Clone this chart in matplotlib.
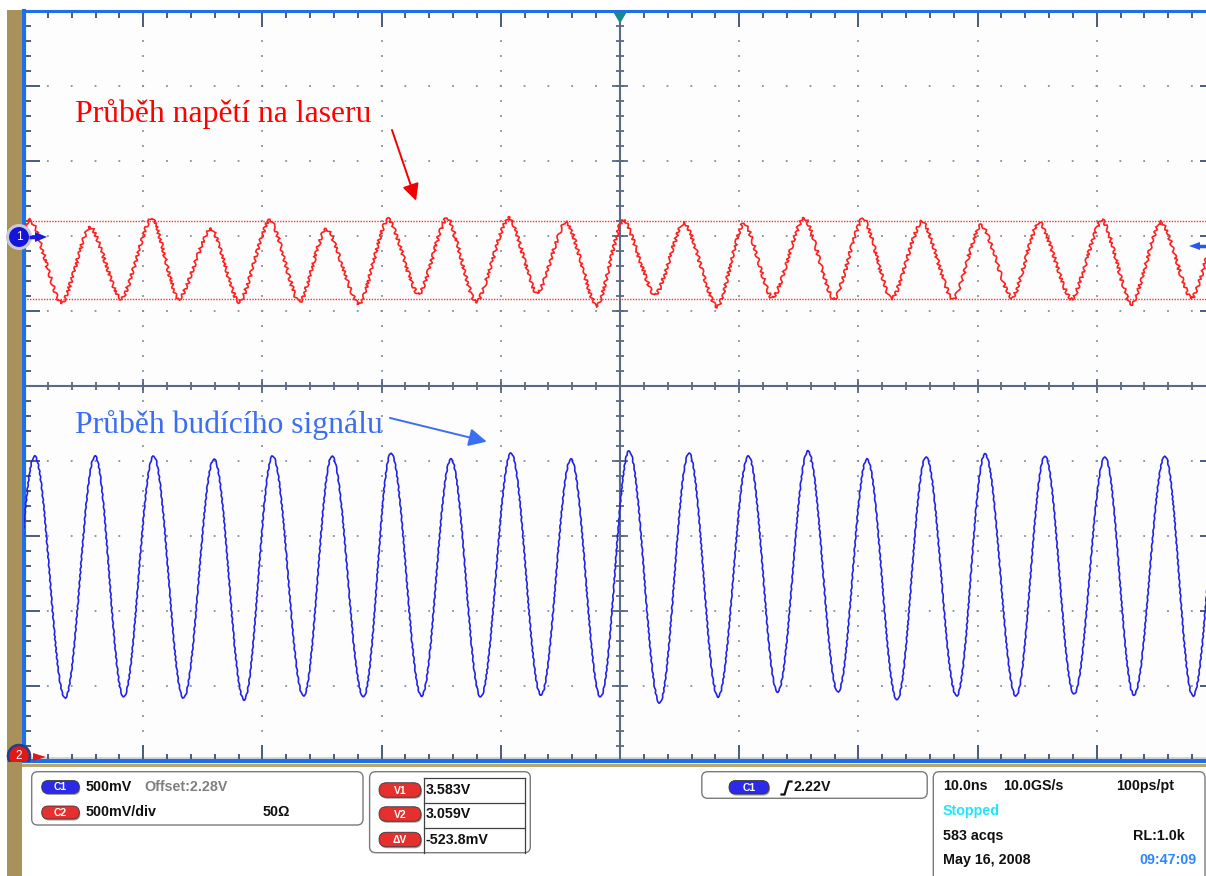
import numpy as np
import matplotlib.pyplot as plt
from matplotlib.path import Path
from matplotlib.patches import PathPatch, FancyBboxPatch, Rectangle, Circle, Polygon
from matplotlib.ticker import FixedLocator, MultipleLocator

plt.rcParams['lines.scale_dashes'] = False

# Oscilloscope screen: 10 ns/div, 500 mV/div (values in V on the C2 scale)
# Red trace - voltage on the laser, turning points
laser_t = [-52.1, -49.5, -46.85, -44.46, -41.86, -39.26, -37.04, -34.31, -31.96, -29.36,
           -26.89, -24.66, -21.90, -19.46, -16.90, -14.51, -12.08, -9.31, -6.96, -4.53,
           -1.93, 0.25, 2.94, 5.37, 8.14, 10.40, 12.79, 15.44, 17.95, 20.39,
           22.78, 25.34, 27.94, 30.29, 32.89, 35.15, 37.88, 40.44, 42.91, 45.39,
           47.94, 50.4]
laser_v = [3.05, 3.587, 3.033, 3.540, 3.060, 3.600, 3.060, 3.527, 3.040, 3.587,
           3.040, 3.527, 3.027, 3.593, 3.093, 3.600, 3.040, 3.600, 3.100, 3.573,
           3.013, 3.587, 3.087, 3.567, 3.007, 3.567, 3.067, 3.600, 3.060, 3.600,
           3.060, 3.580, 3.060, 3.553, 3.067, 3.573, 3.060, 3.587, 3.027, 3.573,
           3.067, 3.58]

# Blue trace - driving signal
drive_t = [-51.6, -49.11, -46.56, -44.04, -41.64, -39.13, -36.62, -34.06, -31.54, -29.14,
           -26.55, -24.16, -21.52, -19.21, -16.65, -14.18, -11.69, -9.14, -6.63, -4.11,
           -1.64, 0.76, 3.32, 5.79, 8.22, 10.78, 13.22, 15.77, 18.29, 20.72,
           23.24, 25.67, 28.24, 30.62, 33.22, 35.65, 38.09, 40.69, 43.12, 45.72,
           48.07, 50.6]
drive_v = [0.400, 2.013, 0.400, 2.013, 0.407, 2.013, 0.400, 1.993, 0.387, 2.013,
           0.413, 2.013, 0.407, 2.033, 0.413, 1.993, 0.407, 2.033, 0.420, 1.993,
           0.407, 2.047, 0.367, 2.033, 0.407, 2.013, 0.440, 2.047, 0.440, 1.993,
           0.387, 2.007, 0.413, 2.027, 0.413, 2.013, 0.427, 2.007, 0.420, 2.013,
           0.413, 2.01]

cursor_v1 = 3.583
cursor_v2 = 3.059

W, H = 1206, 876
fig = plt.figure(figsize=(W / 100, H / 100), dpi=100, facecolor='white')

# screen: 10 x 119.2 px wide (right part cut off by the picture), 10 x 75 px high
ax = fig.add_axes([24 / W, (H - 761) / H, 1192 / W, 750 / H])
ax.set_facecolor('#FDFDFD')
ax.set_xlim(-50, 50)
ax.set_ylim(-0.02, 4.98)

tick_c = '#4A5C7A'
dot_c = '#8090A8'
ax.xaxis.set_major_locator(MultipleLocator(10))
ax.xaxis.set_minor_locator(MultipleLocator(2))
ax.yaxis.set_major_locator(FixedLocator(np.arange(-0.02, 5.0, 0.5)))
ax.yaxis.set_minor_locator(FixedLocator(np.arange(-0.02, 5.0, 0.1)))
ax.tick_params(which='both', direction='in', top=True, right=True, bottom=True, left=True,
               labelbottom=False, labelleft=False, color=tick_c, width=1.4)
ax.tick_params(which='major', length=11.5)
ax.tick_params(which='minor', length=5)

# dotted graticule, one dot at every minor step
ax.xaxis.grid(True, which='major', color=dot_c, lw=1.3, ls=(0.65, (1.3, 10.8 - 1.3)))
ax.yaxis.grid(True, which='major', color=dot_c, lw=1.3, ls=(0.65, (1.3, 17.16 - 1.3)))

for name, sp in ax.spines.items():
    sp.set_color('#1F6FE8')
ax.spines['left'].set_linewidth(3.0)
ax.spines['top'].set_linewidth(2.2)
ax.spines['bottom'].set_linewidth(3.0)
ax.spines['right'].set_linewidth(3.0)

ax.add_patch(Rectangle((0, 0), 1, 4 / 750, transform=ax.transAxes, color='#D8D8D8',
                       lw=0, zorder=0.8))

# centre cross with its own ticks
cross_c = '#5A6A84'
ax.axvline(0, color=cross_c, lw=1.5, zorder=2)
ax.axhline(2.48, color=cross_c, lw=1.5, zorder=2)
tx_minor = np.arange(-50, 51, 2)
tx_major = np.arange(-50, 51, 10)
ty_minor = np.arange(-0.02, 5.0, 0.1)
ty_major = np.arange(-0.02, 5.0, 0.5)
ax.plot(tx_minor, np.full(len(tx_minor), 2.48), ls='none', marker='|', ms=6, mew=1.3,
        color=cross_c, zorder=2)
ax.plot(tx_major, np.full(len(tx_major), 2.48), ls='none', marker='|', ms=10, mew=1.3,
        color=cross_c, zorder=2)
ax.plot(np.zeros(len(ty_minor)), ty_minor, ls='none', marker='_', ms=6, mew=1.3,
        color=cross_c, zorder=2)
ax.plot(np.zeros(len(ty_major)), ty_major, ls='none', marker='_', ms=11, mew=1.3,
        color=cross_c, zorder=2)

# cursors
ax.axhline(cursor_v1, color='#FF3030', lw=1.0, ls=(0, (1, 1)), zorder=2.5)
ax.axhline(cursor_v2, color='#FF3030', lw=1.0, ls=(0, (1, 1)), zorder=2.5)


def wave(t, v, k):
    verts = [(t[0], v[0])]
    codes = [Path.MOVETO]
    for i in range(1, len(t)):
        dt = t[i] - t[i - 1]
        verts += [(t[i - 1] + k * dt, v[i - 1]), (t[i] - k * dt, v[i]), (t[i], v[i])]
        codes += [Path.CURVE4] * 3
    return Path(verts, codes)


red = PathPatch(wave(laser_t, laser_v, 0.25), fill=False, ec='#FF2020', lw=1.2, zorder=3)
red.set_sketch_params(scale=1.4, length=7, randomness=3)
ax.add_patch(red)
blue = PathPatch(wave(drive_t, drive_v, 0.3634), fill=False, ec='#2323E6', lw=1.2, zorder=3)
blue.set_sketch_params(scale=0.4, length=8, randomness=2)
ax.add_patch(blue)

# annotations
ax.text(-45.72, 4.242, 'Průběh napětí na laseru', color='#FF0000', fontsize=22.8,
        family='Liberation Serif', ha='left', va='baseline', zorder=4)
ax.annotate('', xy=(-17.11, 3.715), xytext=(-19.13, 4.187),
            arrowprops=dict(arrowstyle='-|>', color='#F00000', lw=1.4, mutation_scale=25,
                            shrinkA=0, shrinkB=0), zorder=4)
ax.text(-45.72, 2.167, 'Průběh budícího signálu', color='#3C6EF0', fontsize=22.8,
        family='Liberation Serif', ha='left', va='baseline', zorder=4)
ax.annotate('', xy=(-11.18, 2.109), xytext=(-19.30, 2.267),
            arrowprops=dict(arrowstyle='-|>', color='#3C6EF0', lw=1.4, mutation_scale=27,
                            shrinkA=0, shrinkB=0), zorder=4)

# overlay in pixel units: side strip, channel markers and status panel
ov = fig.add_axes([0, 0, 1, 1], zorder=5)
ov.set_xlim(0, W)
ov.set_ylim(H, 0)
ov.axis('off')

ov.add_patch(Rectangle((7, 10), 15, H - 10, color='#A8925A', lw=0))
ov.add_patch(Rectangle((22, 764), W - 22, 2.5, color='#BBA66C', lw=0))

# trigger position marker at the top
ov.add_patch(Polygon([(613.5, 12.5), (626.5, 12.5), (620, 23.5)], closed=True,
                     fc='#178C8C', ec='none'))

# channel 1 marker
ov.add_patch(Circle((19, 237), 11.5, fc='#1515D8', ec='#C8C8D8', lw=2.2))
ov.text(19, 237.5, '1', color='white', fontsize=8.5, ha='center', va='center',
        family='Liberation Sans')
ov.plot([29, 37], [237, 237], color='#1A1ADD', lw=2.5, solid_capstyle='butt')
ov.add_patch(Polygon([(35, 232), (47, 237), (35, 242)], closed=True, fc='#1A1ADD', ec='none'))

# channel 2 marker
c2 = Circle((19, 756), 11, fc='#E01818', ec='#20408A', lw=1.8)
ov.add_patch(c2)
c2.set_clip_path(Rectangle((0, 0), 60, 762, transform=ov.transData))
ov.text(19, 756, '2', color='white', fontsize=8.5, ha='center', va='center',
        family='Liberation Sans')
ov.add_patch(Polygon([(33, 753), (46, 757), (33, 761)], closed=True, fc='#E01818', ec='none'))

# trigger level arrow on the right
ov.plot([1199, 1206], [246, 246], color='#2858EE', lw=2.5, solid_capstyle='butt')
ov.add_patch(Polygon([(1200, 242), (1189, 246), (1200, 250)], closed=True,
                     fc='#2858EE', ec='none'))


def box(x0, y0, x1, y1):
    ov.add_patch(FancyBboxPatch((x0, y0), x1 - x0, y1 - y0,
                                boxstyle='round,pad=0,rounding_size=6',
                                fc='white', ec='#7A7A7A', lw=1.0))


def pill(cx, cy, w, h, fc, label):
    style = 'round,pad=0,rounding_size=%g' % (h / 2)
    ov.add_patch(FancyBboxPatch((cx - w / 2 + 1, cy - h / 2 + 1.5), w, h, boxstyle=style,
                                fc='#505050', ec='none', alpha=0.55))
    ov.add_patch(FancyBboxPatch((cx - w / 2, cy - h / 2), w, h, boxstyle=style,
                                fc=fc, ec='#383838', lw=0.6))
    ov.text(cx, cy + 0.5, label, color='white', fontsize=7.5, fontweight='bold',
            ha='center', va='center', family='Liberation Sans')


def label(x, y, s, color='#111111', ha='left'):
    ov.text(x, y, s, color=color, fontsize=10.3, fontweight='bold', ha=ha, va='center',
            family='Liberation Sans')


box(31.7, 771.7, 363, 825)
pill(60.5, 787, 37.6, 13, '#2A2AE8', 'C1')
pill(60.5, 812.5, 37.6, 13, '#E63030', 'C2')
label(86, 787, '500mV')
label(144.3, 787, 'Offset:2.28V', color='#808080')
label(86, 812, '500mV/div')
label(263, 812, '50Ω')

box(369.6, 771.7, 530.3, 852.7)
for yy in (778.3, 802.7, 827.7):
    ov.plot([424.3, 525.3], [yy, yy], color='#404040', lw=0.9)
for xx in (424.3, 525.3):
    ov.plot([xx, xx], [778.3, 852.7], color='#404040', lw=0.9)
pill(400, 790, 42, 14.5, '#E63030', 'V1')
pill(400, 814, 42, 14.5, '#E63030', 'V2')
pill(400, 839.5, 42, 14.5, '#E63030', 'ΔV')
label(426, 790, '3.583V')
label(426, 814, '3.059V')
label(426, 840, '-523.8mV')

box(701.8, 771.7, 927.2, 798.3)
pill(749, 787.3, 40, 13.5, '#2A2AE8', 'C1')
ov.plot([781.5, 784.5, 788.5, 791.5], [794.5, 794.5, 781.5, 781.5], color='#111111', lw=1.6)
label(794, 787, '2.22V')

box(933.3, 771.7, 1205, 895)
label(942.7, 786, '10.0ns')
label(1002.7, 786, '10.0GS/s')
label(1116, 786, '100ps/pt')
label(942.7, 810.7, 'Stopped', color='#1EE6FF')
label(942.7, 836, '583 acqs')
label(1185, 836, 'RL:1.0k', ha='right')
label(942.7, 860, 'May 16, 2008')
label(1196.7, 860, '09:47:09', color='#2E86FF', ha='right')

fig.savefig('out.png', dpi=100, facecolor='white')
